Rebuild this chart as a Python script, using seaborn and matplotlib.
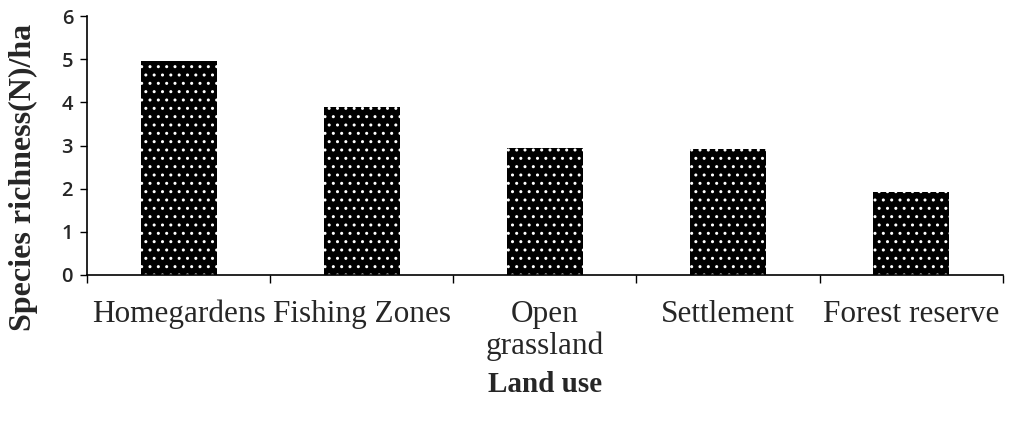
import matplotlib
matplotlib.use("Agg")
import matplotlib.pyplot as plt
import seaborn as sns
import pandas as pd
import numpy as np

categories = ["Homegardens", "Fishing Zones", "Open\ngrassland", "Settlement", "Forest reserve"]
richness = [4.95, 3.9, 2.95, 2.93, 1.93]

sns.set_theme(style="white")
plt.rcParams["hatch.linewidth"] = 1.0

df = pd.DataFrame({"Land use": categories, "richness": richness})

fig = plt.figure(figsize=(10.16, 4.23), dpi=100)
ax = fig.add_axes([0.0856, 0.350, 0.9014, 0.612])

sns.barplot(data=df, x="Land use", y="richness", color="black", width=0.415,
            saturation=1, ax=ax)
for p in ax.patches:
    p.set_facecolor("black")
    p.set_edgecolor("white")
    p.set_linewidth(0)
    p.set_hatch("..")

ax.set_xlim(-0.5, 4.5)
ax.set_ylim(0, 6)
ax.set_yticks(range(0, 7))
ax.set_yticklabels([str(i) for i in range(0, 7)], fontfamily="Open Sans",
                   fontsize=14.5, fontweight="semibold")
ax.tick_params(axis="y", direction="out", length=5, width=1, color="black",
               left=True, pad=5)
ax.set_xticks(range(len(categories)))
ax.set_xticklabels(categories, fontfamily="Liberation Serif", fontsize=22.5,
                   linespacing=1.12)
ax.set_xticks(np.arange(-0.5, 5.0, 1.0), minor=True)
ax.tick_params(axis="x", which="major", length=0, pad=18)
ax.tick_params(axis="x", which="minor", direction="out", length=6, width=1,
               color="black", bottom=True)

for s in ["top", "right"]:
    ax.spines[s].set_visible(False)
for s in ["left", "bottom"]:
    ax.spines[s].set_color("black")
    ax.spines[s].set_linewidth(1.2)

ax.set_ylabel("Species richness(N)/ha", fontfamily="Liberation Serif",
              fontsize=23, fontweight="bold")
ax.yaxis.set_label_coords(-0.053, 0.375)
ax.set_xlabel("Land use", fontfamily="Liberation Serif", fontsize=21,
              fontweight="bold")
ax.xaxis.set_label_coords(0.5, -0.372)
ax.grid(False)

fig.savefig("out.png", dpi=100, facecolor="white")
